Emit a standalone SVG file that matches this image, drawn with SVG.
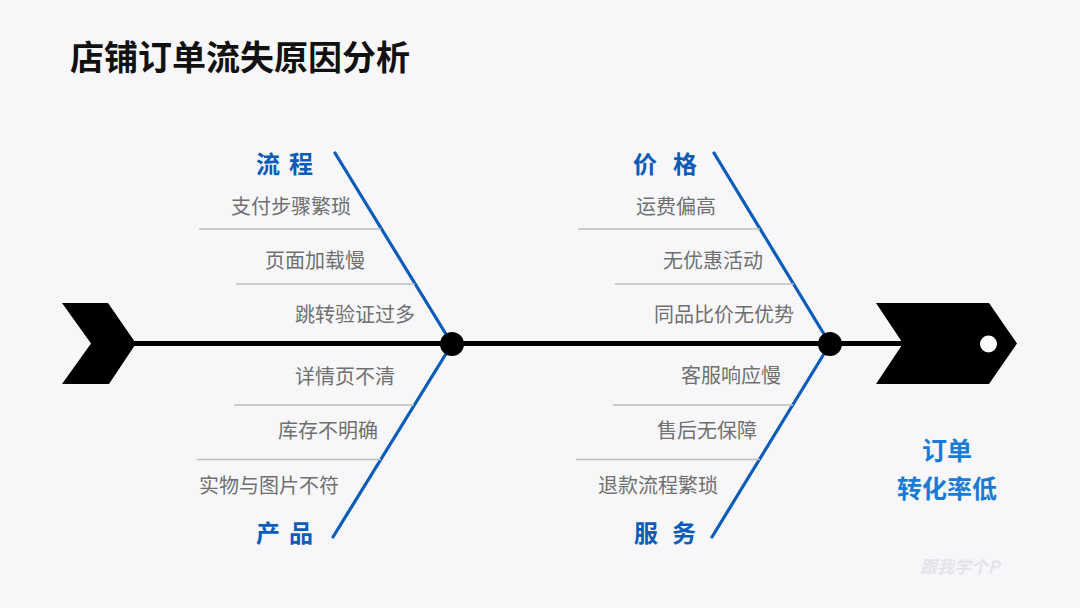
<svg xmlns="http://www.w3.org/2000/svg" width="1080" height="608" viewBox="0 0 1080 608">
<style>
.t{font-family:"Noto Sans CJK SC","Noto Sans",sans-serif;}
.cause{font-size:20px;fill:#707070;}
.cat{font-size:24px;font-weight:bold;fill:#0b5cb8;}
.bone{stroke:#0b5cb8;stroke-width:3.2;stroke-linecap:round;fill:none;}
.sub{stroke:#bdbdbd;stroke-width:1.5;fill:none;}
</style>
<rect width="1080" height="608" fill="#f7f7f9"/>
<text class="t" x="70" y="70" font-size="34" font-weight="bold" fill="#111">店铺订单流失原因分析</text>
<g id="connectors">
<line x1="120" y1="343.5" x2="905" y2="343.5" stroke="#000" stroke-width="5"/>
<line class="bone" x1="335" y1="153" x2="452" y2="344"/>
<line class="bone" x1="452" y1="344" x2="333" y2="537"/>
<line class="bone" x1="714" y1="153" x2="830" y2="344"/>
<line class="bone" x1="830" y1="344" x2="712" y2="537"/>
<line class="sub" x1="199" y1="229" x2="381" y2="229"/>
<line class="sub" x1="236" y1="284" x2="415" y2="284"/>
<line class="sub" x1="234" y1="405" x2="414" y2="405"/>
<line class="sub" x1="197" y1="459.5" x2="381" y2="459.5"/>
<line class="sub" x1="578" y1="229" x2="760" y2="229"/>
<line class="sub" x1="615" y1="284" x2="794" y2="284"/>
<line class="sub" x1="613" y1="405" x2="793" y2="405"/>
<line class="sub" x1="576" y1="459.5" x2="760" y2="459.5"/>
</g>
<g id="tail"><polygon points="62,303 108,303 136,343.5 109,384 62,384 91,343.5" fill="#000"/></g>
<g id="head">
<polygon points="876,303 989,303 1017,343.5 989,384 876,384 903,343.5" fill="#000"/>
<circle cx="988.5" cy="344" r="8.5" fill="#fff"/>
</g>
<g id="joint-left"><circle cx="452" cy="344" r="12" fill="#000"/></g>
<g id="joint-right"><circle cx="830" cy="344" r="12" fill="#000"/></g>
<g id="process">
<text class="t cat" x="256 289" y="173">流程</text>
<text class="t cause" x="231" y="213.5">支付步骤繁琐</text>
<text class="t cause" x="265" y="267.5">页面加载慢</text>
<text class="t cause" x="295" y="321.5">跳转验证过多</text>
</g>
<g id="product">
<text class="t cause" x="295" y="383.5">详情页不清</text>
<text class="t cause" x="278" y="438">库存不明确</text>
<text class="t cause" x="199" y="493">实物与图片不符</text>
<text class="t cat" x="256 289" y="541.5">产品</text>
</g>
<g id="price">
<text class="t cat" x="633 673" y="173">价格</text>
<text class="t cause" x="636" y="214">运费偏高</text>
<text class="t cause" x="663" y="268">无优惠活动</text>
<text class="t cause" x="654" y="321.5">同品比价无优势</text>
</g>
<g id="service">
<text class="t cause" x="681" y="383">客服响应慢</text>
<text class="t cause" x="657" y="438">售后无保障</text>
<text class="t cause" x="598" y="493">退款流程繁琐</text>
<text class="t cat" x="634 672" y="541.5">服务</text>
</g>
<g id="effect">
<text class="t" x="947" y="460" font-size="25" font-weight="bold" fill="#1a7bd6" text-anchor="middle">订单</text>
<text class="t" x="947" y="497.5" font-size="25" font-weight="bold" fill="#1a7bd6" text-anchor="middle">转化率低</text>
</g>
<text class="t" x="920" y="573" font-size="17" font-weight="bold" font-style="italic" fill="#e4e4e8">跟我学个P</text>
</svg>
